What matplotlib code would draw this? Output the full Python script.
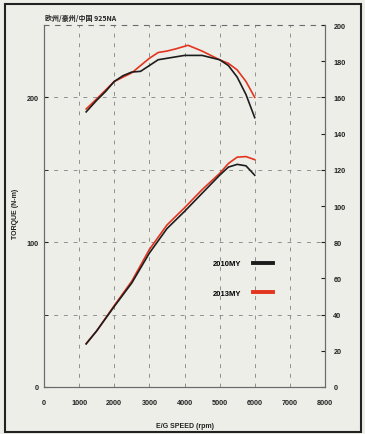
import numpy as np
import matplotlib.pyplot as plt
from matplotlib.lines import Line2D
from matplotlib.patches import Rectangle

plt.rcParams['font.family'] = ['Liberation Sans', 'Noto Sans CJK JP', 'DejaVu Sans']

# torque curves (N-m)
rpm_tq_10 = [1200, 1500, 1750, 2000, 2250, 2500, 2750, 3000, 3250, 3500, 4000, 4500, 5000, 5250, 5500, 5750, 6000]
tq_10 = [190, 198, 204, 211, 215, 217.5, 218, 222, 226, 227, 229, 229, 226, 222, 214, 202, 186]
rpm_tq_13 = [1200, 1500, 1750, 2000, 2250, 2500, 2750, 3000, 3250, 3500, 3750, 4100, 4500, 5000, 5250, 5500, 5750, 6000]
tq_13 = [192, 199, 205, 211, 214, 217, 222, 227, 231, 232, 233.5, 236, 232, 226, 223.5, 219, 211, 200]

# power curves (right axis)
rpm_pw = [1200, 1500, 2000, 2500, 3000, 3500, 4000, 4500, 5000, 5250, 5500, 5750, 6000]
pw_10 = [23.8, 31, 44.5, 57.5, 74, 87.5, 97, 107, 117, 121.5, 123, 122.2, 117]
pw_13 = [24, 31, 45, 58.5, 76, 89.5, 99, 109, 118, 123.5, 127, 127.3, 125.6]

labels = ['2010MY', '2013MY']
colors = ['#1c1c1c', '#e2341e']
bg = '#eeeee9'

fig = plt.figure(figsize=(3.65, 4.35), dpi=100, facecolor=bg)
ax = fig.add_axes([44/365, 47/435, 281/365, 362/435])
ax.set_facecolor(bg)
ax2 = ax.twinx()

ax.set_xlim(0, 8000)
ax.set_ylim(0, 250)
ax2.set_ylim(0, 200)

# grid
for x in range(1000, 8000, 1000):
    ax.axvline(x, color='#909090', lw=0.7, ls=(0, (4, 6)), zorder=0)
for y in [50, 100, 150, 200]:
    ax.axhline(y, color='#909090', lw=0.7, ls=(0, (4, 6)), zorder=0)

ax.plot(rpm_tq_10, tq_10, color=colors[0], lw=1.2, zorder=3)
ax.plot(rpm_tq_13, tq_13, color=colors[1], lw=1.2, zorder=2)
ax2.plot(rpm_pw, pw_10, color=colors[0], lw=1.2, zorder=3)
ax2.plot(rpm_pw, pw_13, color=colors[1], lw=1.2, zorder=2)

fs = 5.2
ax.set_xticks(range(0, 8001, 1000))
ax.set_xticklabels([str(v) for v in range(0, 8001, 1000)], fontsize=fs, fontweight='bold')
ax.set_yticks([0, 100, 200])
ax.set_yticks([50, 150, 250], minor=True)
ax.set_yticklabels(['0', '100', '200'], fontsize=fs, fontweight='bold')
ax2.set_yticks(range(0, 201, 20))
ax2.set_yticklabels([str(v) for v in range(0, 201, 20)], fontsize=fs, fontweight='bold')

ax.tick_params(axis='x', length=0, pad=9, colors='#222222')
ax.tick_params(axis='y', which='both', direction='in', length=3, pad=4, colors='#222222')
ax2.tick_params(axis='y', direction='in', length=3, pad=6, colors='#222222')

for a in (ax, ax2):
    for s in a.spines.values():
        s.set_color('#6a6a6a')
        s.set_linewidth(0.8)
ax.spines['top'].set_linestyle((0, (4, 6)))
ax2.spines['top'].set_visible(False)

ax.set_xlabel('E/G SPEED (rpm)', fontsize=5, fontweight='bold', labelpad=11, color='#222222')
ax.set_ylabel('TORQUE (N-m)', fontsize=5, fontweight='bold', color='#222222')
ax.yaxis.set_label_coords(-0.09, 0.48)

fig.text(45/365, 1 - 18/435, '欧州/豪州/中国 925NA', fontsize=5, fontweight='bold',
         va='center', ha='left', color='#222222',
         family=['Noto Sans CJK JP', 'DejaVu Sans'])

handles = [Line2D([], [], color=c, lw=2.8) for c in colors]
ax.legend(handles, labels, loc='upper left', bbox_to_anchor=(0.575, 0.37),
          frameon=False, markerfirst=False, handlelength=2.6, labelspacing=2.9,
          handletextpad=1.6, prop={'size': 5.5, 'weight': 'bold'})

# outer page frame
fig.patches.append(Rectangle((5/365, 2/435), 356/365, 428/435, transform=fig.transFigure,
                             fill=False, lw=1.5, ec='#222222'))

fig.savefig('out.png', dpi=100, facecolor=bg)
